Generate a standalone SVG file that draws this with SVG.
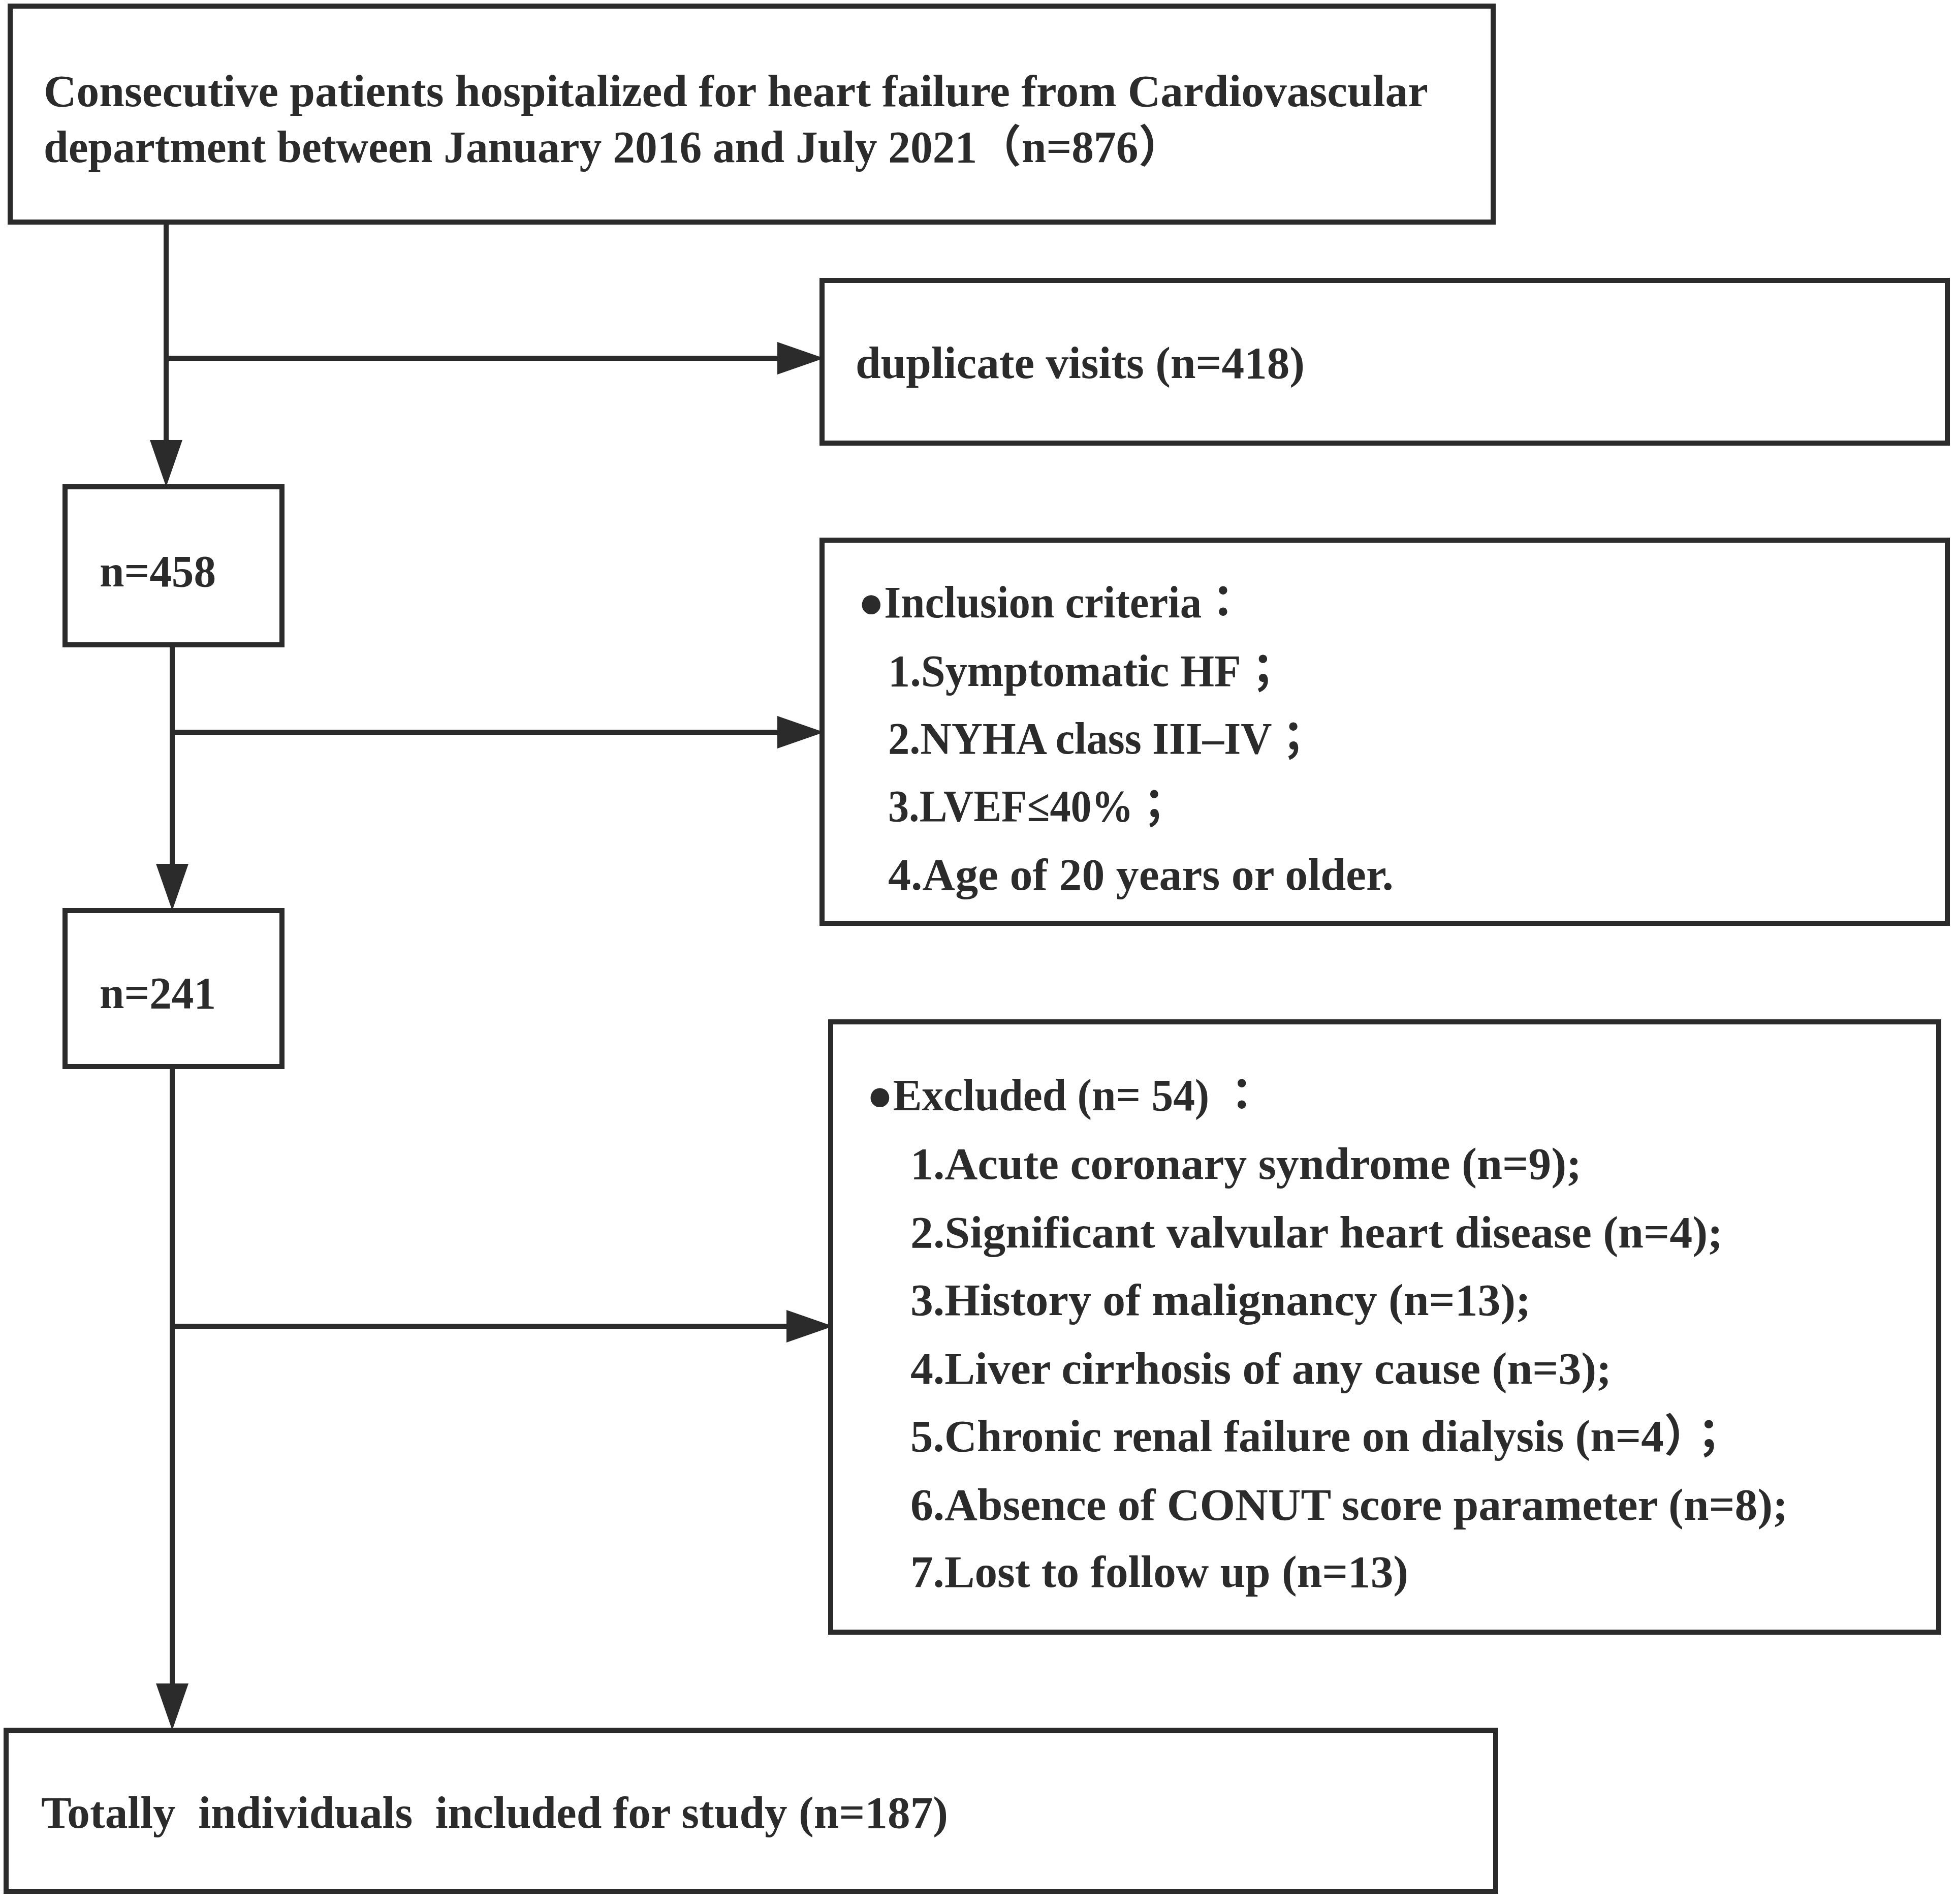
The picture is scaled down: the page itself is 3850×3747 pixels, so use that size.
<svg xmlns="http://www.w3.org/2000/svg" width="3850" height="3747" viewBox="0 0 3850 3747">
<style>
.box{fill:#ffffff;stroke:#2b2b2b;stroke-width:10}
.t{font-family:"Liberation Serif","Noto Sans CJK TC",serif;font-weight:bold;font-size:88px;fill:#2b2b2b;white-space:pre}
.c{fill:none;stroke:#2b2b2b;stroke-width:10}
</style>
<defs>
<marker id="ah" markerUnits="userSpaceOnUse" markerWidth="92" markerHeight="64" refX="0" refY="32" orient="auto" viewBox="0 0 92 64">
<path d="M0,0 L92,32 L0,64 z" fill="#2b2b2b"/>
</marker>
</defs>
<rect width="3850" height="3747" fill="#ffffff"/>
<g id="connectors">
<path class="c" d="M327,437 V866" marker-end="url(#ah)"/>
<path class="c" d="M327,705 H1530" marker-end="url(#ah)"/>
<path class="c" d="M339,1269 V1700" marker-end="url(#ah)"/>
<path class="c" d="M339,1441 H1530" marker-end="url(#ah)"/>
<path class="c" d="M339,2099 V3313" marker-end="url(#ah)"/>
<path class="c" d="M339,2610 H1548" marker-end="url(#ah)"/>
</g>
<g id="node-start">
<rect class="box" x="20" y="12" width="2919" height="425"/>
<text class="t" x="86" y="209" textLength="2725" lengthAdjust="spacingAndGlyphs">Consecutive patients hospitalized for heart failure from Cardiovascular</text>
<text class="t" x="86" y="319" textLength="2242" lengthAdjust="spacingAndGlyphs">department between January 2016 and July 2021（n=876）</text>
</g>
<g id="node-duplicate">
<rect class="box" x="1618" y="552" width="2215" height="320"/>
<text class="t" x="1684" y="744" textLength="884" lengthAdjust="spacingAndGlyphs">duplicate visits (n=418)</text>
</g>
<g id="node-n458">
<rect class="box" x="128" y="958" width="427" height="311"/>
<text class="t" x="196" y="1154" textLength="229" lengthAdjust="spacingAndGlyphs">n=458</text>
</g>
<g id="node-inclusion">
<rect class="box" x="1618" y="1063" width="2215" height="754"/>
<text class="t" x="1689" y="1215" textLength="761" lengthAdjust="spacingAndGlyphs">●Inclusion criteria：</text>
<text class="t" x="1748" y="1350" textLength="781" lengthAdjust="spacingAndGlyphs">1.Symptomatic HF；</text>
<text class="t" x="1748" y="1483" textLength="840" lengthAdjust="spacingAndGlyphs">2.NYHA class III–IV；</text>
<text class="t" x="1748" y="1616" textLength="565" lengthAdjust="spacingAndGlyphs">3.LVEF≤40%；</text>
<text class="t" x="1748" y="1751" textLength="995" lengthAdjust="spacingAndGlyphs">4.Age of 20 years or older.</text>
</g>
<g id="node-n241">
<rect class="box" x="128" y="1792" width="427" height="307"/>
<text class="t" x="196" y="1984" textLength="229" lengthAdjust="spacingAndGlyphs">n=241</text>
</g>
<g id="node-excluded">
<rect class="box" x="1635" y="2011" width="2181" height="1201"/>
<text class="t" x="1706" y="2185" textLength="781" lengthAdjust="spacingAndGlyphs">●Excluded (n= 54) ：</text>
<text class="t" x="1792" y="2320" textLength="1321" lengthAdjust="spacingAndGlyphs">1.Acute coronary syndrome (n=9);</text>
<text class="t" x="1792" y="2455" textLength="1599" lengthAdjust="spacingAndGlyphs">2.Significant valvular heart disease (n=4);</text>
<text class="t" x="1792" y="2588" textLength="1221" lengthAdjust="spacingAndGlyphs">3.History of malignancy (n=13);</text>
<text class="t" x="1792" y="2723" textLength="1380" lengthAdjust="spacingAndGlyphs">4.Liver cirrhosis of any cause (n=3);</text>
<text class="t" x="1792" y="2856" textLength="1616" lengthAdjust="spacingAndGlyphs">5.Chronic renal failure on dialysis (n=4）；</text>
<text class="t" x="1792" y="2991" textLength="1727" lengthAdjust="spacingAndGlyphs">6.Absence of CONUT score parameter (n=8);</text>
<text class="t" x="1792" y="3123" textLength="980" lengthAdjust="spacingAndGlyphs">7.Lost to follow up (n=13)</text>
</g>
<g id="node-final">
<rect class="box" x="12" y="3405" width="2932" height="317"/>
<text class="t" x="81" y="3597" textLength="1785" lengthAdjust="spacingAndGlyphs" xml:space="preserve">Totally  individuals  included for study (n=187)</text>
</g>
</svg>
